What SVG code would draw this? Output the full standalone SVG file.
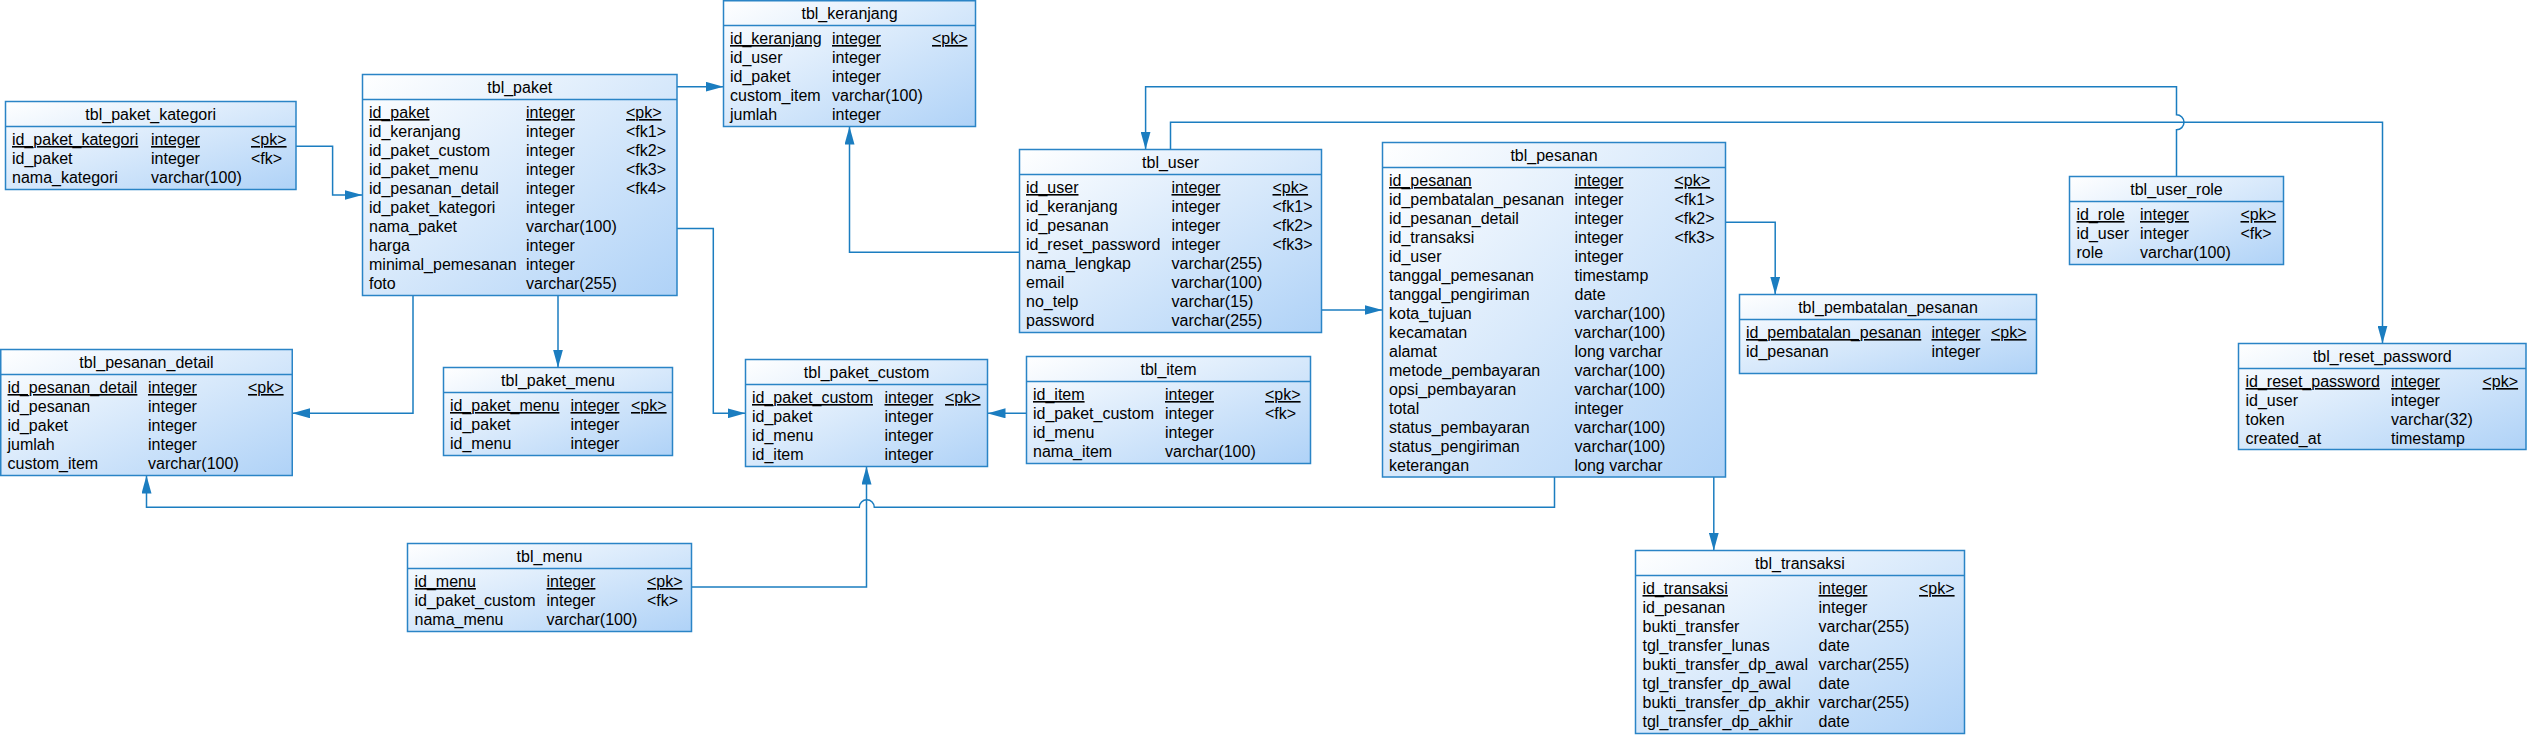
<svg xmlns="http://www.w3.org/2000/svg" width="2527" height="735" viewBox="0 0 2527 735">
<style>
.box{fill:url(#gf);stroke:#2a84c6;stroke-width:1.5}
.hd{stroke:#2a84c6;stroke-width:1.5}
text{font-family:"Liberation Sans",Arial,sans-serif;font-size:16px;fill:#000}
.ti{text-anchor:middle}
.pk{text-decoration:underline}
.cn{fill:none;stroke:#1b7dc0;stroke-width:1.5;marker-end:url(#ar)}
</style>
<defs>
<linearGradient id="gf" x1="0" y1="0" x2="1" y2="1">
<stop offset="0" stop-color="#ffffff"/>
<stop offset="1" stop-color="#afd2f7"/>
</linearGradient>
<marker id="ar" markerUnits="userSpaceOnUse" viewBox="0 0 18 10" refX="18" refY="5" markerWidth="18" markerHeight="10" orient="auto">
<path d="M0,0 L18,5 L0,10 z" fill="#1b7dc0"/>
</marker>
</defs>
<rect width="2527" height="735" fill="#ffffff"/>

<g id="connectors">
<path class="cn" d="M296,146.3 H332.6 V195 H362.5"/>
<path class="cn" d="M677,86.7 H723.5"/>
<path class="cn" d="M1019.5,252.3 H849.5 V126.5"/>
<path class="cn" d="M2176.5,176.5 V129.8 A7.5,7.5 0 0 0 2176.5,114.8 V86.7 H1145.6 V149.5"/>
<path class="cn" d="M1170.5,149.5 V122.3 H2382.5 V343.5"/>
<path class="cn" d="M1321.5,310 H1382.5"/>
<path class="cn" d="M1725.5,222.3 H1775.2 V294.5"/>
<path class="cn" d="M1713.8,477 V550.5"/>
<path class="cn" d="M1554.5,477 V507.3 H874.3 A7.5,7.5 0 0 0 859.3,507.3 H146.5 V475.5"/>
<path class="cn" d="M691.5,587 H866.5 V466.5"/>
<path class="cn" d="M1026.5,413.3 H987.5"/>
<path class="cn" d="M677,228.5 H713.3 V413.3 H745.5"/>
<path class="cn" d="M413,295.5 V413.3 H292.2"/>
<path class="cn" d="M558,295.5 V367.5"/>
</g>

<g id="tbl_paket_kategori">
<rect class="box" x="5.5" y="101.5" width="290.5" height="88"/>
<line class="hd" x1="5.5" y1="126.5" x2="296" y2="126.5"/>
<text class="ti" x="150.75" y="120">tbl_paket_kategori</text>
<text class="pk" x="12" y="145">id_paket_kategori</text><text class="pk" x="151" y="145">integer</text><text class="pk" x="251" y="145">&lt;pk&gt;</text>
<text x="12" y="164">id_paket</text><text x="151" y="164">integer</text><text x="251" y="164">&lt;fk&gt;</text>
<text x="12" y="183">nama_kategori</text><text x="151" y="183">varchar(100)</text>
</g>

<g id="tbl_paket">
<rect class="box" x="362.5" y="74.5" width="314.5" height="221"/>
<line class="hd" x1="362.5" y1="99.5" x2="677" y2="99.5"/>
<text class="ti" x="519.75" y="93">tbl_paket</text>
<text class="pk" x="369" y="118">id_paket</text><text class="pk" x="526" y="118">integer</text><text class="pk" x="626" y="118">&lt;pk&gt;</text>
<text x="369" y="137">id_keranjang</text><text x="526" y="137">integer</text><text x="626" y="137">&lt;fk1&gt;</text>
<text x="369" y="156">id_paket_custom</text><text x="526" y="156">integer</text><text x="626" y="156">&lt;fk2&gt;</text>
<text x="369" y="175">id_paket_menu</text><text x="526" y="175">integer</text><text x="626" y="175">&lt;fk3&gt;</text>
<text x="369" y="194">id_pesanan_detail</text><text x="526" y="194">integer</text><text x="626" y="194">&lt;fk4&gt;</text>
<text x="369" y="213">id_paket_kategori</text><text x="526" y="213">integer</text>
<text x="369" y="232">nama_paket</text><text x="526" y="232">varchar(100)</text>
<text x="369" y="251">harga</text><text x="526" y="251">integer</text>
<text x="369" y="270">minimal_pemesanan</text><text x="526" y="270">integer</text>
<text x="369" y="289">foto</text><text x="526" y="289">varchar(255)</text>
</g>

<g id="tbl_keranjang">
<rect class="box" x="723.5" y="0.75" width="252" height="125.75"/>
<line class="hd" x1="723.5" y1="25.5" x2="975.5" y2="25.5"/>
<text class="ti" x="849.5" y="19">tbl_keranjang</text>
<text class="pk" x="730" y="44">id_keranjang</text><text class="pk" x="832" y="44">integer</text><text class="pk" x="932" y="44">&lt;pk&gt;</text>
<text x="730" y="63">id_user</text><text x="832" y="63">integer</text>
<text x="730" y="82">id_paket</text><text x="832" y="82">integer</text>
<text x="730" y="101">custom_item</text><text x="832" y="101">varchar(100)</text>
<text x="730" y="120">jumlah</text><text x="832" y="120">integer</text>
</g>

<g id="tbl_user">
<rect class="box" x="1019.5" y="149.5" width="302" height="183"/>
<line class="hd" x1="1019.5" y1="174.5" x2="1321.5" y2="174.5"/>
<text class="ti" x="1170.5" y="168">tbl_user</text>
<text class="pk" x="1026" y="193">id_user</text><text class="pk" x="1171.5" y="193">integer</text><text class="pk" x="1272.5" y="193">&lt;pk&gt;</text>
<text x="1026" y="212">id_keranjang</text><text x="1171.5" y="212">integer</text><text x="1272.5" y="212">&lt;fk1&gt;</text>
<text x="1026" y="231">id_pesanan</text><text x="1171.5" y="231">integer</text><text x="1272.5" y="231">&lt;fk2&gt;</text>
<text x="1026" y="250">id_reset_password</text><text x="1171.5" y="250">integer</text><text x="1272.5" y="250">&lt;fk3&gt;</text>
<text x="1026" y="269">nama_lengkap</text><text x="1171.5" y="269">varchar(255)</text>
<text x="1026" y="288">email</text><text x="1171.5" y="288">varchar(100)</text>
<text x="1026" y="307">no_telp</text><text x="1171.5" y="307">varchar(15)</text>
<text x="1026" y="326">password</text><text x="1171.5" y="326">varchar(255)</text>
</g>

<g id="tbl_pesanan">
<rect class="box" x="1382.5" y="142.5" width="343" height="334.5"/>
<line class="hd" x1="1382.5" y1="167.5" x2="1725.5" y2="167.5"/>
<text class="ti" x="1554" y="161">tbl_pesanan</text>
<text class="pk" x="1389" y="186">id_pesanan</text><text class="pk" x="1574.5" y="186">integer</text><text class="pk" x="1674.5" y="186">&lt;pk&gt;</text>
<text x="1389" y="205">id_pembatalan_pesanan</text><text x="1574.5" y="205">integer</text><text x="1674.5" y="205">&lt;fk1&gt;</text>
<text x="1389" y="224">id_pesanan_detail</text><text x="1574.5" y="224">integer</text><text x="1674.5" y="224">&lt;fk2&gt;</text>
<text x="1389" y="243">id_transaksi</text><text x="1574.5" y="243">integer</text><text x="1674.5" y="243">&lt;fk3&gt;</text>
<text x="1389" y="262">id_user</text><text x="1574.5" y="262">integer</text>
<text x="1389" y="281">tanggal_pemesanan</text><text x="1574.5" y="281">timestamp</text>
<text x="1389" y="300">tanggal_pengiriman</text><text x="1574.5" y="300">date</text>
<text x="1389" y="319">kota_tujuan</text><text x="1574.5" y="319">varchar(100)</text>
<text x="1389" y="338">kecamatan</text><text x="1574.5" y="338">varchar(100)</text>
<text x="1389" y="357">alamat</text><text x="1574.5" y="357">long varchar</text>
<text x="1389" y="376">metode_pembayaran</text><text x="1574.5" y="376">varchar(100)</text>
<text x="1389" y="395">opsi_pembayaran</text><text x="1574.5" y="395">varchar(100)</text>
<text x="1389" y="414">total</text><text x="1574.5" y="414">integer</text>
<text x="1389" y="433">status_pembayaran</text><text x="1574.5" y="433">varchar(100)</text>
<text x="1389" y="452">status_pengiriman</text><text x="1574.5" y="452">varchar(100)</text>
<text x="1389" y="471">keterangan</text><text x="1574.5" y="471">long varchar</text>
</g>

<g id="tbl_pembatalan_pesanan">
<rect class="box" x="1739.5" y="294.5" width="297" height="79"/>
<line class="hd" x1="1739.5" y1="319.5" x2="2036.5" y2="319.5"/>
<text class="ti" x="1888" y="313">tbl_pembatalan_pesanan</text>
<text class="pk" x="1746" y="338">id_pembatalan_pesanan</text><text class="pk" x="1931.5" y="338">integer</text><text class="pk" x="1991" y="338">&lt;pk&gt;</text>
<text x="1746" y="357">id_pesanan</text><text x="1931.5" y="357">integer</text>
</g>

<g id="tbl_user_role">
<rect class="box" x="2069.5" y="176.5" width="214" height="88"/>
<line class="hd" x1="2069.5" y1="201.5" x2="2283.5" y2="201.5"/>
<text class="ti" x="2176.5" y="195">tbl_user_role</text>
<text class="pk" x="2076.5" y="220">id_role</text><text class="pk" x="2140" y="220">integer</text><text class="pk" x="2240.5" y="220">&lt;pk&gt;</text>
<text x="2076.5" y="239">id_user</text><text x="2140" y="239">integer</text><text x="2240.5" y="239">&lt;fk&gt;</text>
<text x="2076.5" y="258">role</text><text x="2140" y="258">varchar(100)</text>
</g>

<g id="tbl_reset_password">
<rect class="box" x="2238.5" y="343.5" width="287.5" height="106"/>
<line class="hd" x1="2238.5" y1="368.5" x2="2526" y2="368.5"/>
<text class="ti" x="2382.25" y="362">tbl_reset_password</text>
<text class="pk" x="2245.5" y="387">id_reset_password</text><text class="pk" x="2391" y="387">integer</text><text class="pk" x="2482.5" y="387">&lt;pk&gt;</text>
<text x="2245.5" y="406">id_user</text><text x="2391" y="406">integer</text>
<text x="2245.5" y="425">token</text><text x="2391" y="425">varchar(32)</text>
<text x="2245.5" y="444">created_at</text><text x="2391" y="444">timestamp</text>
</g>

<g id="tbl_pesanan_detail">
<rect class="box" x="0.75" y="349.5" width="291.5" height="126"/>
<line class="hd" x1="0.75" y1="374.5" x2="292.25" y2="374.5"/>
<text class="ti" x="146.5" y="368">tbl_pesanan_detail</text>
<text class="pk" x="7.5" y="393">id_pesanan_detail</text><text class="pk" x="148" y="393">integer</text><text class="pk" x="248" y="393">&lt;pk&gt;</text>
<text x="7.5" y="412">id_pesanan</text><text x="148" y="412">integer</text>
<text x="7.5" y="431">id_paket</text><text x="148" y="431">integer</text>
<text x="7.5" y="450">jumlah</text><text x="148" y="450">integer</text>
<text x="7.5" y="469">custom_item</text><text x="148" y="469">varchar(100)</text>
</g>

<g id="tbl_paket_menu">
<rect class="box" x="443.5" y="367.5" width="229" height="88"/>
<line class="hd" x1="443.5" y1="392.5" x2="672.5" y2="392.5"/>
<text class="ti" x="558" y="386">tbl_paket_menu</text>
<text class="pk" x="450" y="411">id_paket_menu</text><text class="pk" x="570.5" y="411">integer</text><text class="pk" x="631" y="411">&lt;pk&gt;</text>
<text x="450" y="430">id_paket</text><text x="570.5" y="430">integer</text>
<text x="450" y="449">id_menu</text><text x="570.5" y="449">integer</text>
</g>

<g id="tbl_paket_custom">
<rect class="box" x="745.5" y="359.5" width="242" height="107"/>
<line class="hd" x1="745.5" y1="384.5" x2="987.5" y2="384.5"/>
<text class="ti" x="866.5" y="378">tbl_paket_custom</text>
<text class="pk" x="752" y="403">id_paket_custom</text><text class="pk" x="884.5" y="403">integer</text><text class="pk" x="945" y="403">&lt;pk&gt;</text>
<text x="752" y="422">id_paket</text><text x="884.5" y="422">integer</text>
<text x="752" y="441">id_menu</text><text x="884.5" y="441">integer</text>
<text x="752" y="460">id_item</text><text x="884.5" y="460">integer</text>
</g>

<g id="tbl_item">
<rect class="box" x="1026.5" y="356.5" width="284" height="107"/>
<line class="hd" x1="1026.5" y1="381.5" x2="1310.5" y2="381.5"/>
<text class="ti" x="1168.5" y="375">tbl_item</text>
<text class="pk" x="1033" y="400">id_item</text><text class="pk" x="1165" y="400">integer</text><text class="pk" x="1265" y="400">&lt;pk&gt;</text>
<text x="1033" y="419">id_paket_custom</text><text x="1165" y="419">integer</text><text x="1265" y="419">&lt;fk&gt;</text>
<text x="1033" y="438">id_menu</text><text x="1165" y="438">integer</text>
<text x="1033" y="457">nama_item</text><text x="1165" y="457">varchar(100)</text>
</g>

<g id="tbl_menu">
<rect class="box" x="407.5" y="543.5" width="284" height="88"/>
<line class="hd" x1="407.5" y1="568.5" x2="691.5" y2="568.5"/>
<text class="ti" x="549.5" y="562">tbl_menu</text>
<text class="pk" x="414.5" y="587">id_menu</text><text class="pk" x="546.5" y="587">integer</text><text class="pk" x="647" y="587">&lt;pk&gt;</text>
<text x="414.5" y="606">id_paket_custom</text><text x="546.5" y="606">integer</text><text x="647" y="606">&lt;fk&gt;</text>
<text x="414.5" y="625">nama_menu</text><text x="546.5" y="625">varchar(100)</text>
</g>

<g id="tbl_transaksi">
<rect class="box" x="1635.5" y="550.5" width="329" height="183"/>
<line class="hd" x1="1635.5" y1="575.5" x2="1964.5" y2="575.5"/>
<text class="ti" x="1800" y="569">tbl_transaksi</text>
<text class="pk" x="1642.5" y="594">id_transaksi</text><text class="pk" x="1818.5" y="594">integer</text><text class="pk" x="1919" y="594">&lt;pk&gt;</text>
<text x="1642.5" y="613">id_pesanan</text><text x="1818.5" y="613">integer</text>
<text x="1642.5" y="632">bukti_transfer</text><text x="1818.5" y="632">varchar(255)</text>
<text x="1642.5" y="651">tgl_transfer_lunas</text><text x="1818.5" y="651">date</text>
<text x="1642.5" y="670">bukti_transfer_dp_awal</text><text x="1818.5" y="670">varchar(255)</text>
<text x="1642.5" y="689">tgl_transfer_dp_awal</text><text x="1818.5" y="689">date</text>
<text x="1642.5" y="708">bukti_transfer_dp_akhir</text><text x="1818.5" y="708">varchar(255)</text>
<text x="1642.5" y="727">tgl_transfer_dp_akhir</text><text x="1818.5" y="727">date</text>
</g>
</svg>
